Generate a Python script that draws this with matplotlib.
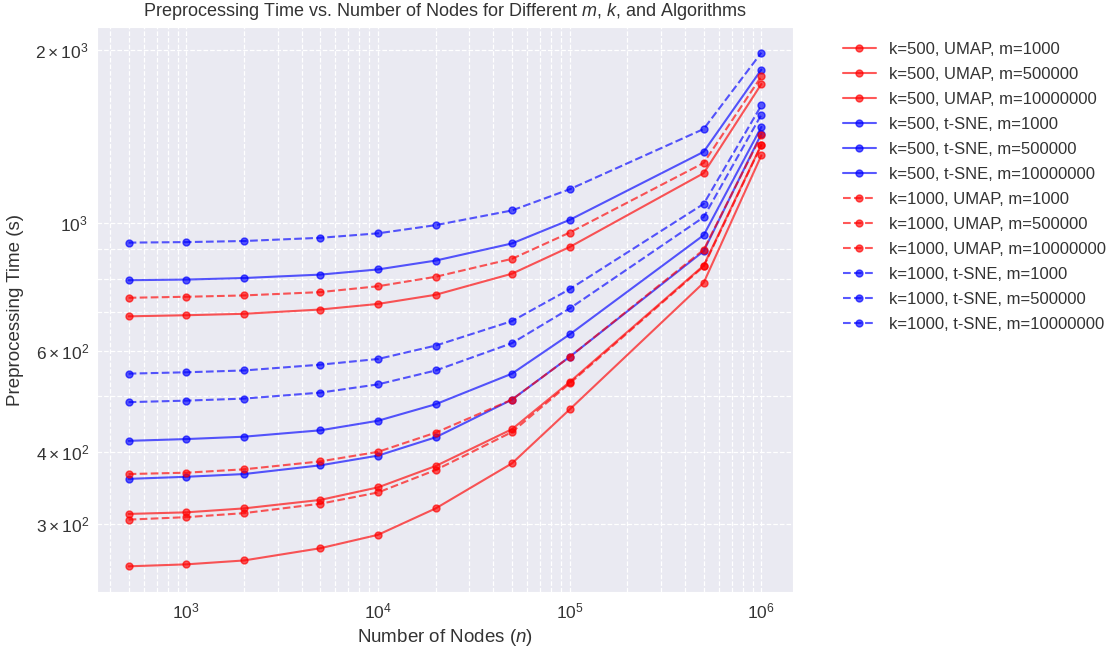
import matplotlib
matplotlib.use("Agg")
import matplotlib.pyplot as plt
import seaborn as sns

# values
nodes = [500, 1000, 2000, 5000, 10000, 20000, 50000, 100000, 500000, 1000000]

umap_k500_m1000 = [253, 255, 259, 272, 287, 319, 382, 474, 787, 1310]
umap_k500_m500000 = [312, 314, 319, 330, 347, 378, 438, 529, 843, 1368]
umap_k500_m10000000 = [688, 691, 695, 707, 723, 750, 816, 908, 1220, 1743]
tsne_k500_m1000 = [359, 362, 366, 379, 394, 424, 493, 585, 893, 1428]
tsne_k500_m500000 = [418, 421, 425, 436, 453, 484, 547, 640, 952, 1468]
tsne_k500_m10000000 = [795, 797, 802, 813, 830, 860, 921, 1012, 1329, 1847]
umap_k1000_m1000 = [305, 308, 313, 325, 340, 372, 433, 526, 840, 1365]
umap_k1000_m500000 = [366, 368, 373, 385, 400, 432, 493, 585, 898, 1420]
umap_k1000_m10000000 = [741, 744, 748, 758, 776, 806, 866, 962, 1271, 1797]
tsne_k1000_m1000 = [488, 491, 495, 507, 524, 554, 618, 710, 1023, 1542]
tsne_k1000_m500000 = [547, 550, 554, 567, 580, 612, 675, 767, 1079, 1600]
tsne_k1000_m10000000 = [924, 926, 930, 942, 959, 991, 1051, 1144, 1456, 1976]

series = [
    ("k=500, UMAP, m=1000", umap_k500_m1000, "red", "-"),
    ("k=500, UMAP, m=500000", umap_k500_m500000, "red", "-"),
    ("k=500, UMAP, m=10000000", umap_k500_m10000000, "red", "-"),
    ("k=500, t-SNE, m=1000", tsne_k500_m1000, "blue", "-"),
    ("k=500, t-SNE, m=500000", tsne_k500_m500000, "blue", "-"),
    ("k=500, t-SNE, m=10000000", tsne_k500_m10000000, "blue", "-"),
    ("k=1000, UMAP, m=1000", umap_k1000_m1000, "red", "--"),
    ("k=1000, UMAP, m=500000", umap_k1000_m500000, "red", "--"),
    ("k=1000, UMAP, m=10000000", umap_k1000_m10000000, "red", "--"),
    ("k=1000, t-SNE, m=1000", tsne_k1000_m1000, "blue", "--"),
    ("k=1000, t-SNE, m=500000", tsne_k1000_m500000, "blue", "--"),
    ("k=1000, t-SNE, m=10000000", tsne_k1000_m10000000, "blue", "--"),
]

sns.set_style("darkgrid")
plt.rcParams["font.family"] = ["Liberation Sans", "DejaVu Sans"]
plt.rcParams["mathtext.fontset"] = "custom"
plt.rcParams["mathtext.rm"] = "Liberation Sans"
plt.rcParams["mathtext.it"] = "Liberation Sans:italic"
plt.rcParams["text.color"] = "#333333"
plt.rcParams["axes.labelcolor"] = "#333333"
plt.rcParams["xtick.color"] = "#333333"
plt.rcParams["ytick.color"] = "#333333"

fig = plt.figure(figsize=(11.17, 6.6), dpi=100)
ax = fig.add_axes([97 / 1117, 68 / 660, 696 / 1117, 565 / 660])

for label, vals, col, ls in series:
    ax.plot(nodes, vals, color=col, linestyle=ls, marker="o", markersize=5,
            linewidth=1.5, alpha=0.65, label=label)

ax.set_xscale("log")
ax.set_yscale("log")
ax.grid(True, which="both", linestyle="--", color="white", linewidth=0.9)
ax.tick_params(which="both", direction="out", length=3.5, width=1,
               color="#333333", labelsize=12.5)
ax.tick_params(which="minor", length=2.5)

ax.set_title("Preprocessing Time vs. Number of Nodes for Different $m$, $k$, and Algorithms",
             fontsize=13, pad=8)
ax.set_xlabel("Number of Nodes ($n$)", fontsize=13.5)
ax.set_ylabel("Preprocessing Time (s)", fontsize=13.5, labelpad=8)

ax.legend(loc="upper left", bbox_to_anchor=(1.05, 1.0), frameon=False,
          fontsize=12, labelspacing=0.6)

fig.savefig("out.png", dpi=100)
